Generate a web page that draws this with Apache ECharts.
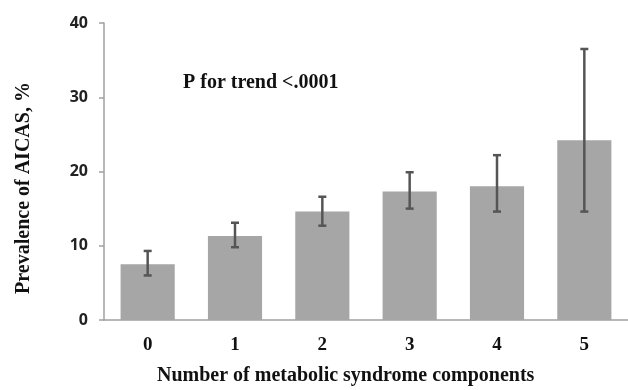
<!DOCTYPE html>
<html>
<head>
<meta charset="utf-8">
<script src="https://cdn.jsdelivr.net/npm/echarts@6/dist/echarts.min.js"></script>
<style>html,body{margin:0;padding:0;background:#fff}#c{width:628px;height:390px}</style>
</head>
<body>
<div id="c"></div>
<script>
const categories = ['0', '1', '2', '3', '4', '5'];
const prevalence = [7.5, 11.3, 14.6, 17.3, 18.0, 24.2];
const ciUpper = [9.3, 13.1, 16.6, 19.9, 22.2, 36.5];
const ciLower = [6.0, 9.8, 12.7, 15.0, 14.6, 14.6];
const yTicks = [0, 10, 20, 30, 40];

const errData = categories.map((c, i) => [i, ciLower[i], ciUpper[i]]);
const chart = echarts.init(document.getElementById('c'), null, {renderer: 'canvas'});
chart.setOption({
  animation: false,
  grid: {left: 104, right: -6, top: 23, bottom: 70, containLabel: false},
  xAxis: {
    type: 'category', data: categories,
    axisLine: {show: true, lineStyle: {color: '#a0a0a0', width: 1.5}},
    axisTick: {show: false},
    axisLabel: {fontFamily: 'Liberation Serif', fontWeight: 'bold', fontSize: 19, color: '#111', margin: 16}
  },
  yAxis: {
    type: 'value', min: yTicks[0], max: yTicks[yTicks.length - 1], interval: 10,
    axisLine: {show: true, lineStyle: {color: '#a0a0a0', width: 1.5}},
    axisTick: {show: true, length: 5, lineStyle: {color: '#a0a0a0', width: 1.5}},
    splitLine: {show: false},
    axisLabel: {fontFamily: 'Open Sans', fontWeight: 'bold', fontSize: 16, color: '#222', margin: 16}
  },
  graphic: [
    {type: 'text', left: 183, top: 73, style: {text: 'P for trend <.0001', font: 'bold 20px "Liberation Serif"', fill: '#111'}},
    {type: 'text', left: 157, top: 366, style: {text: 'Number of metabolic syndrome components', font: 'bold 20px "Liberation Serif"', fill: '#111'}},
    {type: 'text', x: 24, y: 188, rotation: Math.PI / 2, style: {text: 'Prevalence of AICAS, %', font: 'bold 20px "Liberation Serif"', fill: '#111', align: 'center', verticalAlign: 'middle'}}
  ],
  series: [
    {
      type: 'bar', data: prevalence, barCategoryGap: '38%',
      itemStyle: {color: '#a6a6a6'}
    },
    {
      type: 'custom', data: errData, z: 10,
      renderItem: function (params, api) {
        const x = api.value(0);
        const lo = api.coord([x, api.value(1)]);
        const hi = api.coord([x, api.value(2)]);
        const hw = 4;
        const st = {stroke: '#555', lineWidth: 2.5};
        return {type: 'group', children: [
          {type: 'line', shape: {x1: hi[0], y1: hi[1], x2: lo[0], y2: lo[1]}, style: st},
          {type: 'line', shape: {x1: hi[0] - hw, y1: hi[1], x2: hi[0] + hw, y2: hi[1]}, style: st},
          {type: 'line', shape: {x1: lo[0] - hw, y1: lo[1], x2: lo[0] + hw, y2: lo[1]}, style: st}
        ]};
      }
    }
  ]
});
</script>
</body>
</html>
